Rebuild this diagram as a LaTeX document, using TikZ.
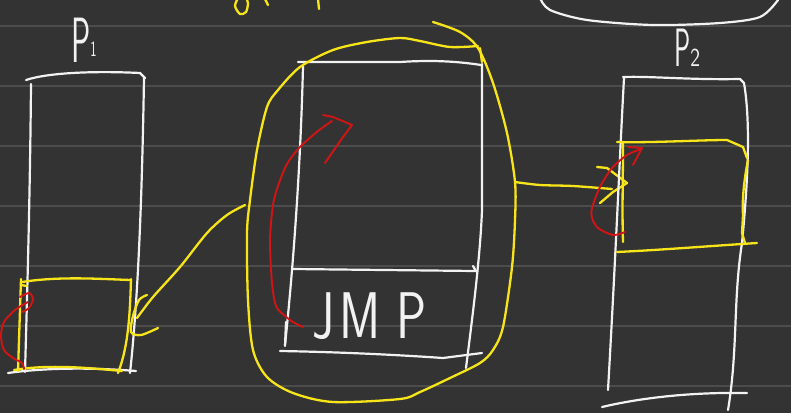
\documentclass[tikz,border=0pt]{standalone}
\usepackage{graphicx}
\definecolor{bg}{HTML}{333333}
\definecolor{rule}{HTML}{4C4C4C}
\definecolor{ink}{HTML}{F2F2F2}
\definecolor{hl}{HTML}{F7E51A}
\definecolor{rd}{HTML}{D21414}
\tikzset{
  wstroke/.style={draw=ink, line width=2.2pt, line cap=round, line join=round},
  ystroke/.style={draw=hl, line width=2.3pt, line cap=round, line join=round},
  rstroke/.style={draw=rd, line width=1.9pt, line cap=round, line join=round},
  hand/.style={text=ink, inner sep=0pt, anchor=base west, font=\sffamily},
}
\begin{document}
\begin{tikzpicture}[x=1pt,y=-1pt]
\useasboundingbox (0,0) rectangle (791,413);
\fill[bg] (0,0) rectangle (791,413);
\foreach \yy in {26,86,146,206,266,326,386}
  \draw[rule, line width=1.8pt] (0,\yy) -- (791,\yy);

% top-right cut-off white shape
\draw[wstroke] plot[smooth] coordinates {(540,-2) (550,10) (587,20) (653,25) (720,23) (760,17) (778,0)};

% cut-off yellow handwriting at top
\draw[ystroke] plot[smooth] coordinates {(238,-2) (235,6) (240,14) (246,12) (248,3) (246,-2)};
\draw[ystroke] (265,-1) -- (268,5);
\draw[ystroke] (318,-1) -- (319,9);

% labels
\node[hand] (p1) at (71,62) {\scalebox{0.5}[1]{\fontsize{64}{64}\selectfont P}\raisebox{6pt}{\scalebox{0.6}[1]{\fontsize{22}{22}\selectfont 1}}};
\node[hand] (p2) at (674,66) {\scalebox{0.5}[1]{\fontsize{54}{54}\selectfont P}\scalebox{0.8}[1]{\fontsize{26}{26}\selectfont 2}};

% ---------- P1 box ----------
\draw[wstroke] (26,80) .. controls (50,72) and (100,71) .. (140,73) -- (145,78);
\draw[wstroke] (31,84) .. controls (30,200) and (27,300) .. (25,372);
\draw[wstroke] (144,78) .. controls (142,200) and (138,300) .. (130,373);
\draw[wstroke] (8,373) .. controls (50,367) and (100,368) .. (136,371);

% P1 yellow box
\draw[ystroke] (22,282) .. controls (60,276) and (100,279) .. (131,280);
\draw[ystroke] (131,279) .. controls (130,310) and (129,345) .. (118,373);
\draw[ystroke] (14,370) .. controls (50,364) and (90,368) .. (122,371);
\draw[ystroke] (21,279) .. controls (20,310) and (19,340) .. (18,371);
\draw[ystroke] (21,285) -- (27,286);

% red loop in P1
\draw[rstroke] plot[smooth] coordinates {(20,297) (29,293) (33,299) (29,308) (22,312)};
\draw[rstroke] plot[smooth] coordinates {(28,302) (15,310) (4,322) (1,336) (4,350) (13,358) (22,363) (24,369)};

% ---------- middle box ----------
\draw[wstroke] (298,62) -- (400,62) .. controls (430,60) and (455,61) .. (481,65);
\draw[wstroke] (303,66) .. controls (301,150) and (295,250) .. (285,345);
\draw[wstroke] (482,64) -- (482,210) .. controls (480,260) and (472,320) .. (466,368);
\draw[wstroke] (293,269) -- (476,271) -- (473,266);
\draw[wstroke] (280,351) .. controls (340,352) and (400,355) .. (443,358) -- (482,353);
\draw[wstroke] (286,322) -- (285,346);
\node[hand, anchor=base west] (jmp) at (312,338) {\scalebox{0.76}[1]{\fontsize{66}{66}\selectfont J\hspace{7pt}M\hspace{20pt}P}};

% red arrow in middle box
\draw[rstroke] plot[smooth] coordinates {(303,327) (293,322) (284,315) (276,306) (272,283) (270,240) (273,205) (278,186) (287,164) (300,147) (318,131) (332,121)};
\draw[rstroke] (323,115) -- (333,117) -- (352,125) -- (343,137) -- (325,163);

% yellow loop around middle box
\draw[ystroke] plot[smooth] coordinates {(433,22) (460,32) (478,48) (493,83) (507,133) (515,182) (515,220) (512,267) (503,327) (493,350) (480,363) (450,378) (420,392) (400,399) (333,402) (293,393) (267,377) (253,350) (248,300) (247,233) (250,200) (257,150) (267,107) (278,90) (300,67) (333,50) (367,42) (400,38) (420,41) (450,47) (478,46)};
\draw[ystroke] (480,48) -- (482,62);

% yellow arrow to P1
\draw[ystroke] plot[smooth] coordinates {(245,205) (227,215) (207,233) (180,267) (153,297) (137,318)};
\draw[ystroke] plot[smooth] coordinates {(147,295) (139,300) (133,316) (131,332) (141,335) (158,328)};

% yellow arrow to P2
\draw[ystroke] plot[smooth] coordinates {(515,182) (540,185) (573,186) (612,189)};
\draw[ystroke] (597,167) -- (607,168) -- (627,183) -- (613,192) -- (600,203);

% ---------- P2 box ----------
\draw[wstroke] (623,77) .. controls (650,76) and (690,80) .. (740,79) -- (744,83);
\draw[wstroke] (624,78) .. controls (620,150) and (616,250) .. (608,390);
\draw[wstroke] (744,83) .. controls (752,130) and (746,200) .. (742,243) .. controls (733,300) and (738,350) .. (728,410);
\draw[wstroke] (602,407) .. controls (640,398) and (690,392) .. (747,393);

% P2 yellow box
\draw[ystroke] (617,142) .. controls (650,143) and (700,140) .. (727,140) -- (743,147) -- (747,158);
\draw[ystroke] (748,160) .. controls (744,180) and (742,200) .. (743,215) -- (742,233) -- (745,243);
\draw[ystroke] (617,252) .. controls (660,250) and (710,246) .. (757,243);
\draw[ystroke] (623,143) .. controls (623,180) and (622,210) .. (623,242);

% red arrow in P2
\draw[rstroke] plot[smooth] coordinates {(625,232) (613,235) (598,228) (592,218) (592,208) (600,187) (612,168) (627,155) (641,149)};
\draw[rstroke] (628,147) -- (642,148) -- (633,165);
\end{tikzpicture}
\end{document}
